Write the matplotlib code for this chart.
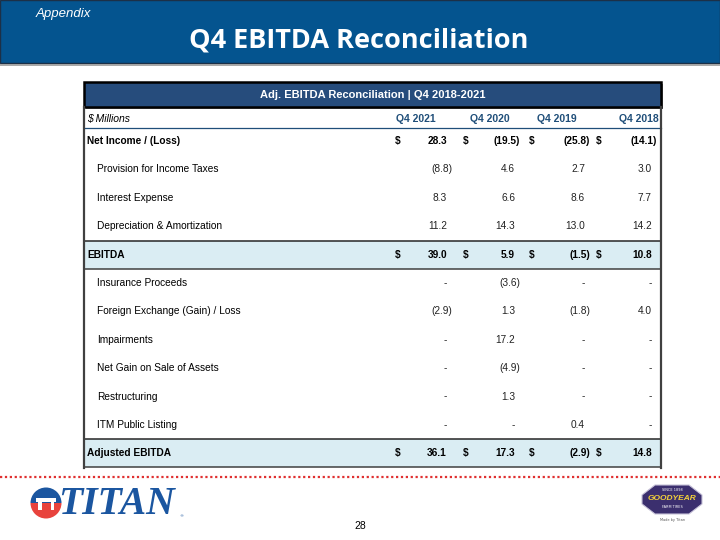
import matplotlib.pyplot as plt
from matplotlib.patches import Rectangle, Polygon, Wedge

# data
row_labels = ['Net Income / (Loss)', 'Provision for Income Taxes', 'Interest Expense',
              'Depreciation & Amortization', 'EBITDA', 'Insurance Proceeds',
              'Foreign Exchange (Gain) / Loss', 'Impairments', 'Net Gain on Sale of Assets',
              'Restructuring', 'ITM Public Listing', 'Adjusted EBITDA']
columns = ['Q4 2021', 'Q4 2020', 'Q4 2019', 'Q4 2018']
q4_2021 = [28.3, -8.8, 8.3, 11.2, 39.0, 0, -2.9, 0, 0, 0, 0, 36.1]
q4_2020 = [-19.5, 4.6, 6.6, 14.3, 5.9, -3.6, 1.3, 17.2, -4.9, 1.3, 0, 17.3]
q4_2019 = [-25.8, 2.7, 8.6, 13.0, -1.5, 0, -1.8, 0, 0, 0, 0.4, -2.9]
q4_2018 = [-14.1, 3.0, 7.7, 14.2, 10.8, 0, 4.0, 0, 0, 0, 0, 14.8]
total_rows = [0, 4, 11]
shaded_rows = [4, 11]

TXT = 'Liberation Sans'
HEAD_BLUE = '#04548f'
BAR_BLUE = '#264c7c'
COL_BLUE = '#1f4e79'
SHADE = '#daedf3'


def fmt(v):
    if v == 0:
        return '-'
    if v < 0:
        return '({:.1f})'.format(-v)
    return '{:.1f}'.format(v)


fig = plt.figure(figsize=(7.2, 5.4), dpi=100)
ax = fig.add_axes([0, 0, 1, 1])
ax.set_xlim(0, 720)
ax.set_ylim(540, 0)
ax.axis('off')

# slide header
ax.add_patch(Rectangle((0, 0), 720, 63, facecolor=HEAD_BLUE, edgecolor='#1c3047', lw=1))
ax.plot([0, 720], [64.5, 64.5], color='#9a9a9a', lw=1.2)
ax.text(36, 14, 'Appendix', color='white', fontsize=9.5, style='italic', family=TXT,
        va='center', ha='left')
ax.text(359, 41, 'Q4 EBITDA Reconciliation', color='white', fontsize=19.5, weight='bold',
        family='Open Sans', va='center', ha='center')

# table frame
tx0, tx1 = 84, 661
ax.add_patch(Rectangle((tx0 + 2, 84), tx1 - tx0, 25, facecolor='#8c8c8c', edgecolor='none'))
ax.add_patch(Rectangle((tx0, 82), tx1 - tx0, 25, facecolor=BAR_BLUE, edgecolor='black', lw=1.8))
ax.text((tx0 + tx1) / 2, 95, 'Adj. EBITDA Reconciliation | Q4 2018-2021', color='white',
        fontsize=8, weight='bold', family=TXT, ha='center', va='center')

ax.text(87, 119, '$ Millions', fontsize=7.5, style='italic', family=TXT, ha='left', va='center')
col_centers = [416, 490, 557, 639]
for cx, c in zip(col_centers, columns):
    ax.text(cx, 119, c, fontsize=7.5, weight='bold', color=COL_BLUE, family=TXT,
            ha='center', va='center')
ax.plot([tx0, tx1], [127.5, 127.5], color=COL_BLUE, lw=0.9)

y0, dy = 141, 28.4
dollar_x = [398, 466, 532, 599]
right_x = [452, 520, 590, 657]
values = [q4_2021, q4_2020, q4_2019, q4_2018]

for i, lab in enumerate(row_labels):
    y = y0 + i * dy
    bold = i in total_rows
    if i in shaded_rows:
        ax.add_patch(Rectangle((tx0, y - 14), tx1 - tx0, 28, facecolor=SHADE, edgecolor='none'))
        ax.plot([tx0, tx1], [y - 14, y - 14], color='#262626', lw=1.1)
        ax.plot([tx0, tx1], [y + 14, y + 14], color='#404040', lw=1.1)
    w = 'bold' if bold else 'normal'
    ax.text(87 if bold else 97, y, lab, fontsize=7.3, weight=w, family=TXT, ha='left', va='center')
    for j in range(4):
        v = values[j][i]
        s = fmt(v)
        xr = right_x[j] if v < 0 else right_x[j] - 5
        ax.text(xr, y, s, fontsize=7.3, weight=w, family=TXT, ha='right', va='center',
                color='black' if bold else '#222222')
        if bold:
            ax.text(dollar_x[j], y, '$', fontsize=7.3, weight='bold', family=TXT,
                    ha='center', va='center')

# table side borders
ax.plot([tx0, tx0], [107, 468], color='#404040', lw=1.6)
ax.plot([tx1, tx1], [107, 468], color='#404040', lw=1.6)

# red dotted separator
ax.plot([0, 720], [477, 477], color='#e03030', lw=1.6, ls=(0, (1, 1.2)))

# titan logo
ax.add_patch(Wedge((46, 503), 15.5, 180, 360, facecolor='#1b56a0', edgecolor='none'))
ax.add_patch(Wedge((46, 503), 15.5, 0, 180, facecolor='#e8433d', edgecolor='none'))
ax.add_patch(Rectangle((36, 498), 20, 3.5, facecolor='white', edgecolor='none'))
ax.add_patch(Rectangle((38, 498), 3.5, 12, facecolor='white', edgecolor='none'))
ax.add_patch(Rectangle((50.5, 498), 3.5, 12, facecolor='white', edgecolor='none'))
ax.text(58, 504, 'TITAN', fontsize=28.5, weight='bold', style='italic', family='Liberation Serif',
        color='#1b56a0', ha='left', va='center')
ax.text(181, 516, '®', fontsize=3, color='#1b56a0', ha='center', va='center')

# goodyear logo
ax.add_patch(Polygon([(642, 495), (655, 485), (689, 485), (702, 495), (702, 504),
                      (689, 514), (655, 514), (642, 504)], closed=True,
                     facecolor='#3b2f6e', edgecolor='#c7c2d8', lw=0.8))
ax.text(672, 490, 'SINCE 1898', fontsize=2.5, color='white', ha='center', va='center')
ax.text(672, 499, 'GOODYEAR', fontsize=6, weight='bold', style='italic', color='#f4d23a',
        family=TXT, ha='center', va='center')
ax.text(672, 507.5, 'FARM TIRES', fontsize=2.5, color='white', ha='center', va='center')
ax.text(672, 520, 'Made by Titan', fontsize=2.5, color='#555555', ha='center', va='center')

ax.text(360, 526, '28', fontsize=7.5, family=TXT, ha='center', va='center')

fig.savefig('out.png', dpi=100)
